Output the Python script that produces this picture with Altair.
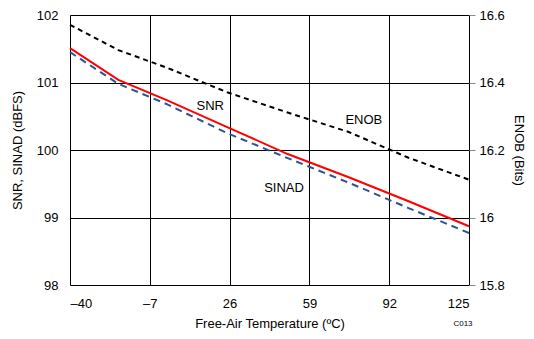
import altair as alt
import pandas as pd

temps = [-40, -20, 0, 25, 50, 75, 100, 125]
snr = [101.51, 101.04, 100.74, 100.34, 99.94, 99.60, 99.24, 98.87]
sinad = [101.45, 100.98, 100.68, 100.25, 99.88, 99.52, 99.14, 98.77]
enob = [16.571, 16.496, 16.444, 16.371, 16.311, 16.254, 16.177, 16.112]

x_ticks = [-40, -7, 26, 59, 92, 125]
left_ticks = [98, 99, 100, 101, 102]
right_ticks = [15.8, 16.0, 16.2, 16.4, 16.6]

labels = ["SNR", "ENOB", "SINAD"]
label_t = [18, 81.5, 48.5]
label_v = [100.65, 100.44, 99.44]

df = pd.DataFrame({"T": temps, "SNR": snr, "SINAD": sinad, "ENOB": enob})
lab = pd.DataFrame({"text": labels, "T": label_t, "v": label_v})

FONT = "Liberation Sans"

xenc = alt.X("T:Q", scale=alt.Scale(domain=[-40, 125], nice=False, zero=False),
             axis=alt.Axis(values=x_ticks, title="Free-Air Temperature (ºC)",
                           labelExpr="datum.value < 0 ? '–' + abs(datum.value) : datum.label",
                           grid=True, gridColor="#000", gridWidth=1, ticks=False,
                           domain=False, labelPadding=12, labelFontSize=13,
                           titleFontSize=13, titleFontWeight="normal", titlePadding=7,
                           labelFont=FONT, titleFont=FONT, labelColor="#000", titleColor="#000"))

yscale = alt.Scale(domain=[98, 102], nice=False, zero=False)
yaxis = alt.Axis(values=left_ticks, format="d", title="SNR, SINAD (dBFS)", grid=True,
                 gridColor="#000", gridWidth=1, ticks=False, domain=False, labelPadding=12,
                 labelFontSize=13, titleFontSize=13, titleFontWeight="normal", titlePadding=12,
                 labelFont=FONT, titleFont=FONT, labelColor="#000", titleColor="#000")

snr_line = alt.Chart(df).mark_line(color="#ff0000", strokeWidth=2).encode(
    x=xenc, y=alt.Y("SNR:Q", scale=yscale, axis=yaxis))
sinad_line = alt.Chart(df).mark_line(color="#2a5590", strokeWidth=2, strokeDash=[7, 5]).encode(
    x="T:Q", y=alt.Y("SINAD:Q", scale=yscale))
text = alt.Chart(lab).mark_text(font=FONT, fontSize=13, color="#000").encode(
    x="T:Q", y=alt.Y("v:Q", scale=yscale), text="text:N")
code = alt.Chart(pd.DataFrame({"t": ["C013"]})).mark_text(
    font=FONT, fontSize=8, color="#000").encode(
    x=alt.value(393), y=alt.value(309), text="t:N")

left = alt.layer(snr_line, sinad_line, text, code)

enob_line = alt.Chart(df).mark_line(color="#000", strokeWidth=2, strokeDash=[5, 4]).encode(
    x="T:Q",
    y=alt.Y("ENOB:Q", scale=alt.Scale(domain=[15.8, 16.6], nice=False, zero=False),
            axis=alt.Axis(orient="right", values=right_ticks, format=".1~f", title="ENOB (Bits)",
                          grid=False, ticks=True, tickSize=6, tickColor="#888", tickWidth=1,
                          domain=False, labelPadding=4, labelFontSize=13, titleFontSize=13,
                          titleFontWeight="normal", titlePadding=7, titleAngle=90,
                          labelFont=FONT, titleFont=FONT, labelColor="#000", titleColor="#000")))

chart = alt.layer(left, enob_line).resolve_scale(y="independent").properties(
    width=399, height=270,
    autosize=alt.AutoSizeParams(type="none"),
    padding={"left": 62, "top": 7, "right": 57, "bottom": 46},
).configure_view(stroke="#222", strokeWidth=2).configure(background="white")

chart.save("out.html", embed_options={"renderer": "svg", "actions": False})
